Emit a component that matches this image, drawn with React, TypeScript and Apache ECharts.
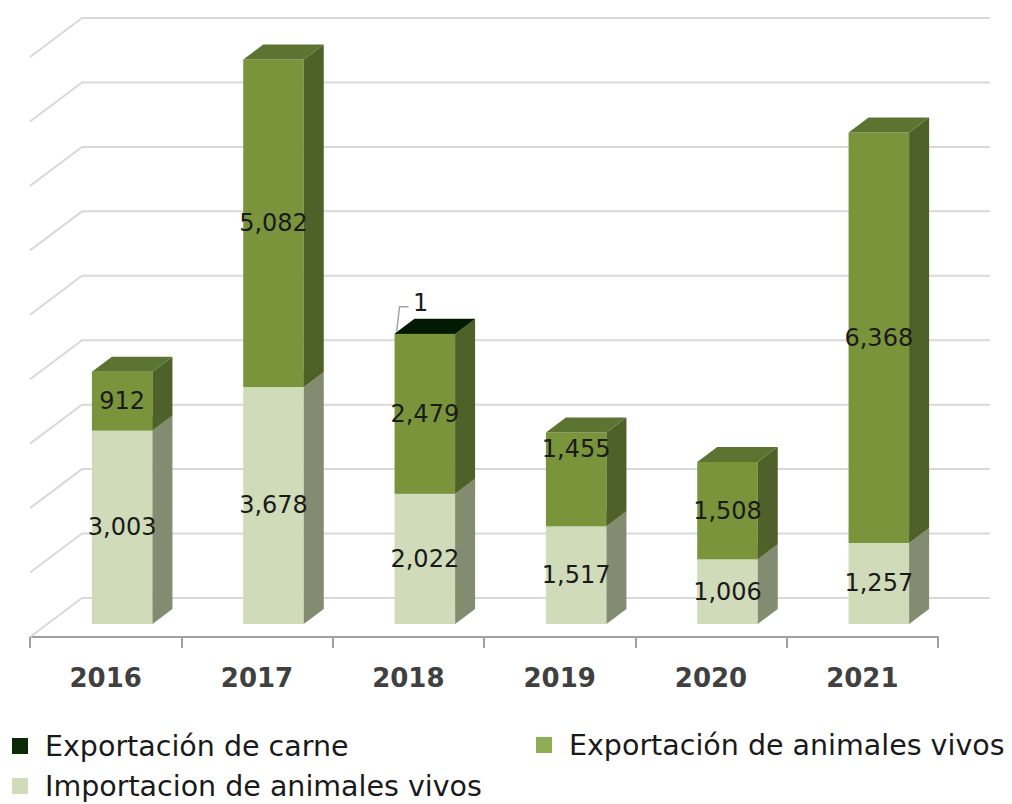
import React, { useEffect, useRef } from "react";
import * as echarts from "echarts";

const categories = ["2016", "2017", "2018", "2019", "2020", "2021"];
const importacionAnimales = [3003, 3678, 2022, 1517, 1006, 1257];
const exportacionAnimales = [912, 5082, 2479, 1455, 1508, 6368];
const exportacionCarne = [0, 0, 1, 0, 0, 0];
const wallTicks = [0, 1000, 2000, 3000, 4000, 5000, 6000, 7000, 8000, 9000];

const seriesNames = [
  "Importacion de animales vivos",
  "Exportación de animales vivos",
  "Exportación de carne",
];

const FONT = "DejaVu Sans";

export default function App() {
  const ref = useRef<HTMLDivElement>(null);

  useEffect(() => {
    document.body.style.margin = "0";
    const chart = echarts.init(ref.current!, null, { renderer: "svg" });

    // projection constants
    const WALL_DX = 52, WALL_DY = -39;
    const FRONT_DX = 16.5, FRONT_DY = -13;
    const SIDE_DX = 20, SIDE_DY = -15;

    const faces: Record<string, { front: string; side: string; top: string; legend: string }> = {
      [seriesNames[0]]: { front: "#cfdbb9", side: "#838c70", top: "#a9b592", legend: "#cfdbb9" },
      [seriesNames[1]]: { front: "#7a943c", side: "#4e6128", top: "#5c7431", legend: "#8fad55" },
      [seriesNames[2]]: { front: "#0d2a06", side: "#061a03", top: "#031a02", legend: "#0b2a06" },
    };

    const labelShift: Record<string, number> = {
      [seriesNames[1] + "|2019"]: -30,
    };

    const stacks = [importacionAnimales, exportacionAnimales, exportacionCarne];

    const makeBarSeries = (si: number) => {
      const name = seriesNames[si];
      const vals = stacks[si];
      const data = vals.map((v, i) => {
        let base = 0;
        for (let k = 0; k < si; k++) base += stacks[k][i];
        return [i, v, base];
      });
      return {
        type: "custom",
        name,
        z: 3 + si,
        itemStyle: { color: faces[name].legend },
        data,
        renderItem: (params: any, api: any) => {
          const ci = api.value(0);
          const v = api.value(1);
          const base = api.value(2);
          if (!v) return { type: "group", children: [] };
          const c = faces[name];
          const p0 = api.coord([ci, base]);
          const p1 = api.coord([ci, base + v]);
          const half = api.size([1, 0])[0] * 0.2;
          const xl = p0[0] - half + FRONT_DX;
          const xr = p0[0] + half + FRONT_DX;
          const yb = p0[1] + FRONT_DY;
          const yt = p1[1] + FRONT_DY;
          const children: any[] = [
            {
              type: "polygon",
              shape: { points: [[xl, yb], [xr, yb], [xr, yt], [xl, yt]] },
              style: { fill: c.front },
            },
            {
              type: "polygon",
              shape: {
                points: [
                  [xr, yb],
                  [xr + SIDE_DX, yb + SIDE_DY],
                  [xr + SIDE_DX, yt + SIDE_DY],
                  [xr, yt],
                ],
              },
              style: { fill: c.side },
            },
            {
              type: "polygon",
              shape: {
                points: [
                  [xl, yt],
                  [xr, yt],
                  [xr + SIDE_DX, yt + SIDE_DY],
                  [xl + SIDE_DX, yt + SIDE_DY],
                ],
              },
              style: { fill: c.top },
            },
          ];
          const text = v.toLocaleString("en-US");
          if (yb - yt < 20) {
            // tiny segment: label above with leader line
            children.push({
              type: "polyline",
              shape: { points: [[xl + 2, yt - 2], [xl + 5, yt - 27], [xl + 14, yt - 27]] },
              style: { stroke: "#a6a6a6", lineWidth: 1.5, fill: null },
            });
            children.push({
              type: "text",
              style: {
                text,
                x: xl + 26,
                y: yt - 31,
                align: "center",
                verticalAlign: "middle",
                fontSize: 24,
                fontFamily: FONT,
                fill: "#1a1a1a",
              },
            });
          } else {
            const shift = labelShift[name + "|" + categories[ci]] || 0;
            children.push({
              type: "text",
              style: {
                text,
                x: (xl + xr) / 2,
                y: (yb + yt) / 2 + shift,
                align: "center",
                verticalAlign: "middle",
                fontSize: 24,
                fontFamily: FONT,
                fill: "#1a1a1a",
              },
            });
          }
          return { type: "group", children };
        },
      };
    };

    const wallSeries = {
      type: "custom",
      name: "wall",
      z: 1,
      silent: true,
      data: wallTicks.map((t) => [0, t]),
      renderItem: (params: any, api: any) => {
        const p = api.coord([0, api.value(1)]);
        const left = params.coordSys.x;
        const right = params.coordSys.x + params.coordSys.width;
        return {
          type: "polyline",
          shape: {
            points: [
              [left, p[1]],
              [left + WALL_DX, p[1] + WALL_DY],
              [right + WALL_DX, p[1] + WALL_DY],
            ],
          },
          style: { stroke: "#d9d9d9", lineWidth: 2, fill: null },
        };
      },
    };

    const legendBase = {
      orient: "horizontal",
      icon: "rect",
      itemWidth: 16,
      itemHeight: 16,
      padding: 0,
      selectedMode: false,
      textStyle: {
        fontSize: 28.5,
        fontFamily: FONT,
        color: "#1a1a1a",
        padding: [0, 0, 0, 12],
        lineHeight: 32,
      },
    };

    chart.setOption({
      animation: false,
      backgroundColor: "#ffffff",
      grid: { left: 30, right: 74, top: 57, bottom: 167, containLabel: false },
      xAxis: {
        type: "category",
        data: categories,
        boundaryGap: true,
        axisLine: { show: true, lineStyle: { color: "#a0a0a0", width: 2 } },
        axisTick: { show: true, length: 11, lineStyle: { color: "#a0a0a0", width: 2 } },
        axisLabel: {
          margin: 26,
          fontSize: 26,
          fontWeight: "bold",
          fontFamily: FONT,
          color: "#404040",
          lineHeight: 30,
        },
        splitLine: { show: false },
      },
      yAxis: {
        type: "value",
        min: 0,
        max: 9000,
        interval: 1000,
        show: false,
        splitLine: { show: false },
      },
      legend: [
        { ...legendBase, data: [seriesNames[2]], left: 12, top: 730 },
        { ...legendBase, data: [seriesNames[1]], left: 536, top: 729 },
        {
          ...legendBase,
          data: [seriesNames[0]],
          left: 12,
          top: 770,
          textStyle: { ...legendBase.textStyle, lineHeight: 32 },
        },
      ],
      series: [wallSeries, makeBarSeries(0), makeBarSeries(1), makeBarSeries(2)],
    });

    return () => chart.dispose();
  }, []);

  return <div ref={ref} style={{ width: 1012, height: 804 }} />;
}
